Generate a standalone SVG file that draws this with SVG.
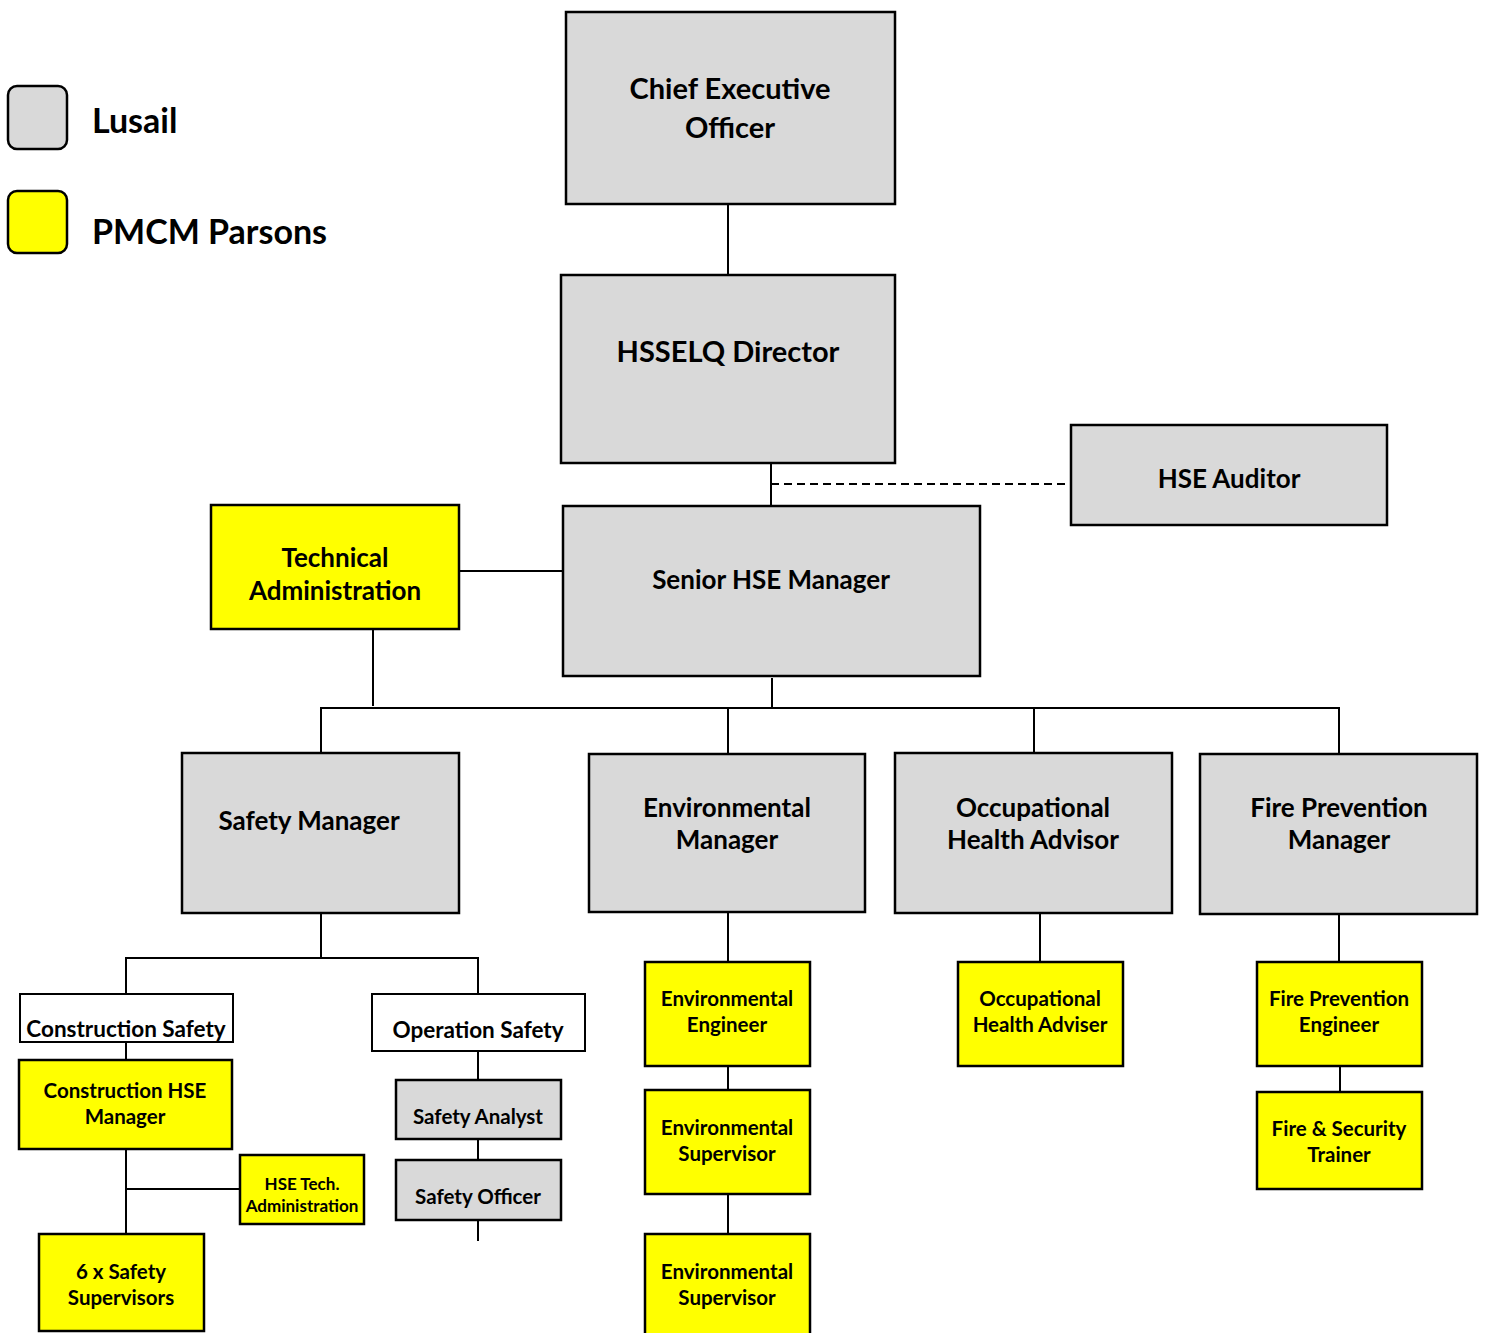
<svg xmlns="http://www.w3.org/2000/svg" width="1486" height="1333" viewBox="0 0 1486 1333">
<style>
.g{fill:#d9d9d9;stroke:#000;stroke-width:2.5}
.y{fill:#ffff00;stroke:#000;stroke-width:2.5}
.w{fill:#fff;stroke:#000;stroke-width:2}
text{font-family:Lato,"Liberation Sans",sans-serif;font-weight:bold;fill:#000;text-anchor:middle;dominant-baseline:central}
.l{text-anchor:start;font-size:34px}
.t28{font-size:29px}
.t24{font-size:26px}
.t21{font-size:22.5px}
.t19{font-size:20.5px}
.t16{font-size:17px}
#connectors line{stroke:#000;stroke-width:2}
</style>
<rect width="1486" height="1333" fill="#fff"/>
<g id="legend">
<rect x="8" y="86" width="59" height="63" rx="9" class="g"/>
<text x="92" y="119" class="l">Lusail</text>
<rect x="8" y="191" width="59" height="62" rx="9" class="y"/>
<text x="92" y="230" class="l">PMCM Parsons</text>
</g>
<g id="connectors">
<line x1="728" y1="204" x2="728" y2="275"/>
<line x1="771" y1="463" x2="771" y2="506"/>
<line x1="771" y1="484" x2="1071" y2="484" stroke-dasharray="8,5"/>
<line x1="459" y1="571" x2="563" y2="571"/>
<line x1="373" y1="629" x2="373" y2="706"/>
<line x1="772" y1="678" x2="772" y2="708"/>
<line x1="320" y1="708" x2="1340" y2="708"/>
<line x1="321" y1="708" x2="321" y2="753"/>
<line x1="728" y1="708" x2="728" y2="754"/>
<line x1="1034" y1="708" x2="1034" y2="753"/>
<line x1="1339" y1="708" x2="1339" y2="754"/>
<line x1="321" y1="913" x2="321" y2="958"/>
<line x1="125" y1="958" x2="479" y2="958"/>
<line x1="126" y1="958" x2="126" y2="994"/>
<line x1="478" y1="958" x2="478" y2="994"/>
<line x1="126" y1="1042" x2="126" y2="1060"/>
<line x1="126" y1="1149" x2="126" y2="1234"/>
<line x1="126" y1="1189" x2="240" y2="1189"/>
<line x1="478" y1="1042" x2="478" y2="1080"/>
<line x1="478" y1="1139" x2="478" y2="1160"/>
<line x1="478" y1="1220" x2="478" y2="1241"/>
<line x1="728" y1="912" x2="728" y2="962"/>
<line x1="728" y1="1066" x2="728" y2="1090"/>
<line x1="728" y1="1194" x2="728" y2="1241"/>
<line x1="1040" y1="913" x2="1040" y2="962"/>
<line x1="1339" y1="914" x2="1339" y2="962"/>
<line x1="1340" y1="1066" x2="1340" y2="1092"/>
</g>
<g id="ceo"><rect x="566" y="12" width="329" height="192" class="g"/><text x="730" y="87" class="t28">Chief Executive</text><text x="730" y="126" class="t28">Officer</text></g>
<g id="hsselq"><rect x="561" y="275" width="334" height="188" class="g"/><text x="728" y="350" class="t28">HSSELQ Director</text></g>
<g id="auditor"><rect x="1071" y="425" width="316" height="100" class="g"/><text x="1229" y="478" class="t24">HSE Auditor</text></g>
<g id="senior"><rect x="563" y="506" width="417" height="170" class="g"/><text x="771" y="579" class="t24">Senior HSE Manager</text></g>
<g id="techadmin"><rect x="211" y="505" width="248" height="124" class="y"/><text x="335" y="557" class="t24">Technical</text><text x="335" y="590" class="t24">Administration</text></g>
<g id="safetymgr"><rect x="182" y="753" width="277" height="160" class="g"/><text x="309" y="820" class="t24">Safety Manager</text></g>
<g id="envmgr"><rect x="589" y="754" width="276" height="158" class="g"/><text x="727" y="807" class="t24">Environmental</text><text x="727" y="839" class="t24">Manager</text></g>
<g id="ohadvisor"><rect x="895" y="753" width="277" height="160" class="g"/><text x="1033" y="807" class="t24">Occupational</text><text x="1033" y="839" class="t24">Health Advisor</text></g>
<g id="firemgr"><rect x="1200" y="754" width="277" height="160" class="g"/><text x="1339" y="807" class="t24">Fire Prevention</text><text x="1339" y="839" class="t24">Manager</text></g>
<g id="constsafety"><rect x="20" y="994" width="213" height="48" class="w"/><text x="126" y="1028" class="t21">Construction Safety</text></g>
<g id="opsafety"><rect x="372" y="994" width="213" height="57" class="w"/><text x="478" y="1029" class="t21">Operation Safety</text></g>
<g id="consthse"><rect x="19" y="1060" width="213" height="89" class="y"/><text x="125" y="1090" class="t19">Construction HSE</text><text x="125" y="1116" class="t19">Manager</text></g>
<g id="hsetech"><rect x="240" y="1155" width="124" height="69" class="y"/><text x="302" y="1183" class="t16">HSE Tech.</text><text x="302" y="1205" class="t16">Administration</text></g>
<g id="supervisors"><rect x="39" y="1234" width="165" height="97" class="y"/><text x="121" y="1271" class="t19">6 x Safety</text><text x="121" y="1297" class="t19">Supervisors</text></g>
<g id="analyst"><rect x="396" y="1080" width="165" height="59" class="g"/><text x="478" y="1116" class="t19">Safety Analyst</text></g>
<g id="officer"><rect x="396" y="1160" width="165" height="60" class="g"/><text x="478" y="1196" class="t19">Safety Officer</text></g>
<g id="enveng"><rect x="645" y="962" width="165" height="104" class="y"/><text x="727" y="998" class="t19">Environmental</text><text x="727" y="1024" class="t19">Engineer</text></g>
<g id="envsup1"><rect x="645" y="1090" width="165" height="104" class="y"/><text x="727" y="1127" class="t19">Environmental</text><text x="727" y="1153" class="t19">Supervisor</text></g>
<g id="envsup2"><rect x="645" y="1234" width="165" height="104" class="y"/><text x="727" y="1271" class="t19">Environmental</text><text x="727" y="1297" class="t19">Supervisor</text></g>
<g id="ohadviser"><rect x="958" y="962" width="165" height="104" class="y"/><text x="1040" y="998" class="t19">Occupational</text><text x="1040" y="1024" class="t19">Health Adviser</text></g>
<g id="fireeng"><rect x="1257" y="962" width="165" height="104" class="y"/><text x="1339" y="998" class="t19">Fire Prevention</text><text x="1339" y="1024" class="t19">Engineer</text></g>
<g id="firetrainer"><rect x="1257" y="1092" width="165" height="97" class="y"/><text x="1339" y="1128" class="t19">Fire &amp; Security</text><text x="1339" y="1154" class="t19">Trainer</text></g>
</svg>
